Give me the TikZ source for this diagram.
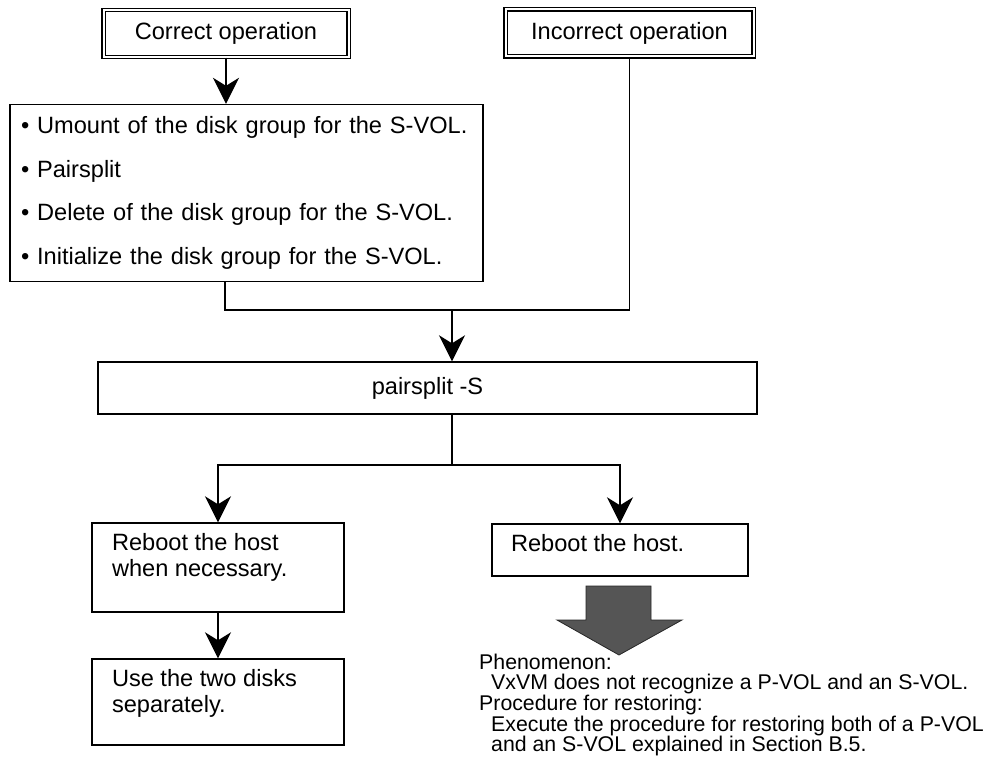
\documentclass[tikz,border=0pt]{standalone}
\usepackage{fontspec}
\setmainfont{Liberation Sans}
\usetikzlibrary{positioning,arrows.meta,calc}
\definecolor{shaftdark}{HTML}{555555}
\definecolor{shaftlight}{HTML}{D2D2D2}
\newcommand{\mainsz}{\fontsize{23.6}{26}\selectfont}
\newcommand{\notesz}{\fontsize{21.3}{19.7}\selectfont}

\begin{document}
\begin{tikzpicture}[x=1pt,y=-1pt,
  opbox/.style={draw, double, line width=1.2pt, double distance=2pt, minimum width=245pt, minimum height=47pt, inner sep=0pt, font=\mainsz},
  stepbox/.style={draw, line width=1.4pt, inner sep=0pt, font=\mainsz},
  flow/.style={line width=1.4pt},
  flowarrow/.style={flow, -{Stealth[length=26pt,width=26pt,inset=8pt]}}]
\useasboundingbox (0,0) rectangle (989,773);

% the two starting points
\node[opbox] (corr) at (226,33.5) {Correct operation};
\node[opbox, minimum width=248pt] (incorr) at (629.5,33) {Incorrect operation};

\node[stepbox, minimum width=473pt, minimum height=177pt, text width=451pt, inner xsep=11pt, align=left, font=\fontsize{23.6}{43.7}\selectfont] (tasks) at (246.5,193) {\mbox{\textbullet\ Umount of the disk group for the S-VOL.}\\\mbox{\textbullet\ Pairsplit}\\\mbox{\textbullet\ Delete of the disk group for the S-VOL.}\\\mbox{\textbullet\ Initialize the disk group for the S-VOL.}};

\node[stepbox, minimum width=659pt, minimum height=52pt] (pair) at (427.5,388) {pairsplit -S};

% results
\node[stepbox, inner xsep=20pt, inner ysep=10pt] (lhost) at (218,567.5) {\parbox[c][69pt][t]{212pt}{Reboot the host\\when necessary.}};
\node[stepbox, inner xsep=20pt, inner ysep=10pt] (ldisks) at (218,702) {\parbox[c][66pt][t]{212pt}{Use the two disks\\separately.}};
\node[stepbox, inner xsep=19pt, inner ysep=10pt] (rhost) at (620,550) {\parbox[c][32pt][t]{218pt}{Reboot the host.}};

\node[anchor=north west, align=left, inner sep=0pt, font=\notesz] (note) at (479,654) {Phenomenon:\\\hspace*{12pt}VxVM does not recognize a P-VOL and an S-VOL.\\Procedure for restoring:\\\hspace*{12pt}Execute the procedure for restoring both of a P-VOL\\\hspace*{12pt}and an S-VOL explained in Section B.5.};

% connectors
\coordinate (merge) at (452,310);
\coordinate (fork) at (452,465);
\draw[flowarrow] (corr.south) -- (corr.south |- tasks.north);
\draw[flow] ([xshift=-21.5pt]tasks.south) |- (merge);
\draw[flow] (incorr.south) |- (merge);
\draw[flowarrow] (merge) -- (merge |- pair.north);
\draw[flow] (merge |- pair.south) -- (fork);
\draw[flowarrow] (fork) -| (lhost.north);
\draw[flowarrow] (fork) -| (rhost.north);
\draw[flowarrow] (lhost) -- (ldisks);

% big shaded arrow
\shade[left color=shaftdark, middle color=shaftlight, right color=shaftdark, draw=black!85, line width=0.8pt]
  (586,586) -- (651,586) -- (651,620) -- (682,620) -- (619,655) -- (557,620) -- (586,620) -- cycle;
\end{tikzpicture}
\end{document}
